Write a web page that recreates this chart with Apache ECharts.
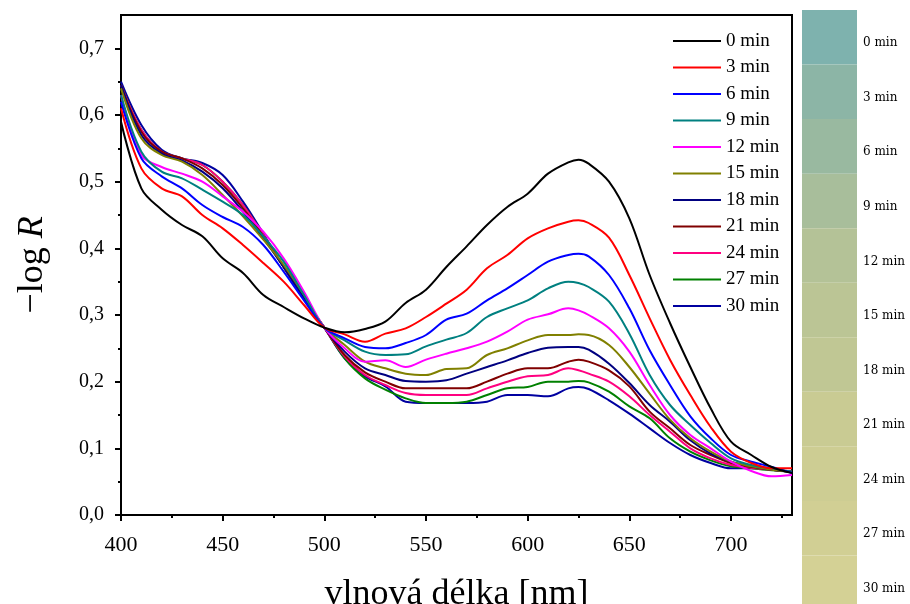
<!DOCTYPE html>
<html><head><meta charset="utf-8">
<script src="https://cdn.jsdelivr.net/npm/echarts@6/dist/echarts.min.js"></script>
<style>html,body{margin:0;padding:0;background:#fff}#c{width:910px;height:604px}</style>
</head><body><div id="c"></div>
<script>
const wavelengths = [400,410,420,430,440,450,460,470,480,490,500,510,520,530,540,550,560,570,580,590,600,610,620,625,630,640,650,660,670,680,690,700,710,720,730];
const timeLabels = ['0 min','3 min','6 min','9 min','12 min','15 min','18 min','21 min','24 min','27 min','30 min'];
const lineColors = ['#000000','#ff0000','#0000ff','#008080','#ff00ff','#808000','#000080','#800000','#ff0080','#008000','#0000a0'];
const min0  = [0.59,0.49,0.458,0.435,0.418,0.385,0.363,0.33,0.312,0.295,0.281,0.274,0.279,0.29,0.318,0.338,0.372,0.403,0.435,0.462,0.482,0.512,0.529,0.533,0.527,0.5,0.445,0.36,0.288,0.222,0.16,0.11,0.09,0.072,0.063];
const min3  = [0.61,0.52,0.49,0.478,0.45,0.43,0.405,0.378,0.35,0.315,0.281,0.271,0.26,0.272,0.28,0.297,0.317,0.338,0.37,0.39,0.415,0.43,0.44,0.442,0.438,0.416,0.36,0.295,0.233,0.18,0.132,0.095,0.078,0.07,0.07];
const min6  = [0.62,0.535,0.508,0.49,0.465,0.447,0.432,0.405,0.365,0.322,0.281,0.265,0.252,0.25,0.258,0.27,0.293,0.302,0.322,0.34,0.36,0.38,0.39,0.392,0.388,0.36,0.31,0.247,0.195,0.148,0.115,0.09,0.08,0.072,0.063];
const min9  = [0.63,0.545,0.515,0.505,0.488,0.47,0.45,0.418,0.38,0.33,0.281,0.262,0.245,0.24,0.241,0.253,0.263,0.273,0.297,0.31,0.322,0.34,0.35,0.348,0.342,0.32,0.272,0.21,0.165,0.135,0.108,0.085,0.075,0.07,0.065];
const min12 = [0.63,0.54,0.522,0.512,0.5,0.478,0.455,0.425,0.385,0.335,0.281,0.25,0.23,0.232,0.222,0.233,0.242,0.25,0.26,0.275,0.293,0.301,0.31,0.307,0.3,0.28,0.245,0.195,0.15,0.12,0.1,0.08,0.066,0.058,0.06];
const min15 = [0.64,0.565,0.54,0.53,0.51,0.48,0.448,0.413,0.375,0.33,0.281,0.255,0.23,0.22,0.212,0.21,0.219,0.22,0.24,0.25,0.262,0.27,0.27,0.271,0.27,0.255,0.222,0.182,0.143,0.115,0.095,0.08,0.073,0.068,0.065];
const min18 = [0.645,0.57,0.542,0.532,0.515,0.49,0.455,0.415,0.372,0.325,0.281,0.245,0.22,0.21,0.201,0.2,0.202,0.212,0.222,0.232,0.243,0.251,0.252,0.252,0.248,0.227,0.198,0.165,0.14,0.112,0.092,0.08,0.073,0.068,0.065];
const min21 = [0.645,0.575,0.545,0.535,0.52,0.495,0.46,0.418,0.372,0.325,0.281,0.24,0.214,0.2,0.19,0.19,0.19,0.19,0.2,0.212,0.22,0.22,0.23,0.233,0.23,0.217,0.193,0.155,0.13,0.105,0.09,0.078,0.072,0.068,0.065];
const min24 = [0.645,0.578,0.545,0.535,0.525,0.5,0.465,0.42,0.372,0.325,0.281,0.238,0.21,0.195,0.183,0.18,0.18,0.18,0.19,0.2,0.208,0.21,0.22,0.217,0.212,0.2,0.178,0.15,0.125,0.1,0.085,0.075,0.071,0.068,0.065];
const min27 = [0.645,0.578,0.545,0.535,0.525,0.5,0.465,0.42,0.372,0.325,0.281,0.235,0.205,0.188,0.175,0.168,0.168,0.17,0.18,0.19,0.192,0.2,0.2,0.201,0.199,0.185,0.163,0.145,0.115,0.095,0.082,0.073,0.07,0.067,0.065];
const min30 = [0.65,0.585,0.548,0.535,0.528,0.51,0.47,0.422,0.372,0.325,0.281,0.235,0.208,0.193,0.17,0.168,0.168,0.168,0.17,0.18,0.18,0.178,0.19,0.192,0.189,0.172,0.152,0.13,0.108,0.09,0.078,0.07,0.07,0.068,0.065];
const allSeries = [min0,min3,min6,min9,min12,min15,min18,min21,min24,min27,min30];
const xMajorTicks = [400,450,500,550,600,650,700];
const xMinorTicks = [425,475,525,575,625,675,725];
const yMajorTicks = [0,0.1,0.2,0.3,0.4,0.5,0.6,0.7];
const yMinorTicks = [0.05,0.15,0.25,0.35,0.45,0.55,0.65];
const swatchColors = ['#7eb2ae','#8cb5a6','#99b9a0','#a8be9b','#b4c297','#bbc595','#c0c794','#c9cb93','#cdcd93','#d1cf94','#d4d195'];
const swatchValues = [1,1,1,1,1,1,1,1,1,1,1];

const serif = 'Liberation Serif';
const chart = echarts.init(document.getElementById('c'), null, {renderer:'canvas'});
const lineSeries = allSeries.map((vals, k) => ({
  name: timeLabels[k], type: 'line', xAxisIndex: 0, yAxisIndex: 0,
  data: wavelengths.map((w, i) => [w, vals[i]]),
  smooth: 0.35, symbol: 'none', showSymbol: false,
  lineStyle: {color: lineColors[k], width: 2}, itemStyle: {color: lineColors[k]},
  z: 20 - k
}));
chart.setOption({
  animation: false,
  backgroundColor: '#fff',
  grid: [
    {left: 121, top: 15, width: 671, height: 500, show: true, borderColor: '#000', borderWidth: 2, backgroundColor: 'transparent', containLabel: false, outerBoundsMode: 'none'},
    {left: 802, top: 10, width: 55, height: 600, containLabel: false, outerBoundsMode: 'none'}
  ],
  legend: {
    data: timeLabels, orient: 'vertical', left: 668, top: 26,
    itemWidth: 48, itemHeight: 14, itemGap: 6.5,
    textStyle: {fontFamily: serif, fontSize: 19, color: '#000', lineHeight: 20},
    icon: 'path://M0,6L48,6L48,8L0,8Z'
  },
  xAxis: [
    {type: 'value', gridIndex: 0, position: 'bottom', min: 400, max: 730,
     axisLine: {show: true, lineStyle: {color: '#000', width: 2}},
     axisTick: {show: true, customValues: xMajorTicks, length: 6, lineStyle: {color: '#000', width: 2}},
     axisLabel: {customValues: xMajorTicks, fontFamily: serif, fontSize: 22, color: '#000', margin: 19},
     splitLine: {show: false},
     name: 'vlnová délka [nm]', nameLocation: 'middle', nameGap: 62,
     nameTextStyle: {fontFamily: serif, fontSize: 36, color: '#000'}},
    {type: 'value', gridIndex: 0, position: 'bottom', min: 400, max: 730,
     axisLine: {show: false},
     axisTick: {show: true, customValues: xMinorTicks, length: 3, lineStyle: {color: '#000', width: 2}},
     axisLabel: {show: false}, splitLine: {show: false}},
    {type: 'value', gridIndex: 1, min: 0, max: 1, show: false}
  ],
  yAxis: [
    {type: 'value', gridIndex: 0, position: 'left', min: 0, max: 0.75,
     axisLine: {show: true, lineStyle: {color: '#000', width: 2}},
     axisTick: {show: true, customValues: yMajorTicks, length: 6, lineStyle: {color: '#000', width: 2}},
     axisLabel: {customValues: yMajorTicks, fontFamily: serif, fontSize: 20, color: '#000', margin: 17,
       formatter: v => v.toFixed(1).replace('.', ',')},
     splitLine: {show: false},
     name: '\u2212log {i|R}', nameLocation: 'middle', nameGap: 70,
     nameTextStyle: {fontFamily: serif, fontSize: 36, color: '#000',
       rich: {i: {fontFamily: serif, fontSize: 36, fontStyle: 'italic', color: '#000'}}}},
    {type: 'value', gridIndex: 0, position: 'left', min: 0, max: 0.75,
     axisLine: {show: false},
     axisTick: {show: true, customValues: yMinorTicks, length: 3, lineStyle: {color: '#000', width: 2}},
     axisLabel: {show: false}, splitLine: {show: false}},
    {type: 'category', gridIndex: 1, data: timeLabels, inverse: true, position: 'right',
     axisLine: {show: false}, axisTick: {show: false},
     axisLabel: {fontFamily: 'DejaVu Serif', fontSize: 12, color: '#000', margin: 6, verticalAlign: 'top'}}
  ],
  series: lineSeries.concat([{
    name: 'swatch', type: 'bar', xAxisIndex: 2, yAxisIndex: 2,
    barWidth: '100%', barCategoryGap: 0, silent: true,
    data: swatchValues.map((v, i) => ({value: v, itemStyle: {color: swatchColors[i]}}))
  }])
});
</script></body></html>
